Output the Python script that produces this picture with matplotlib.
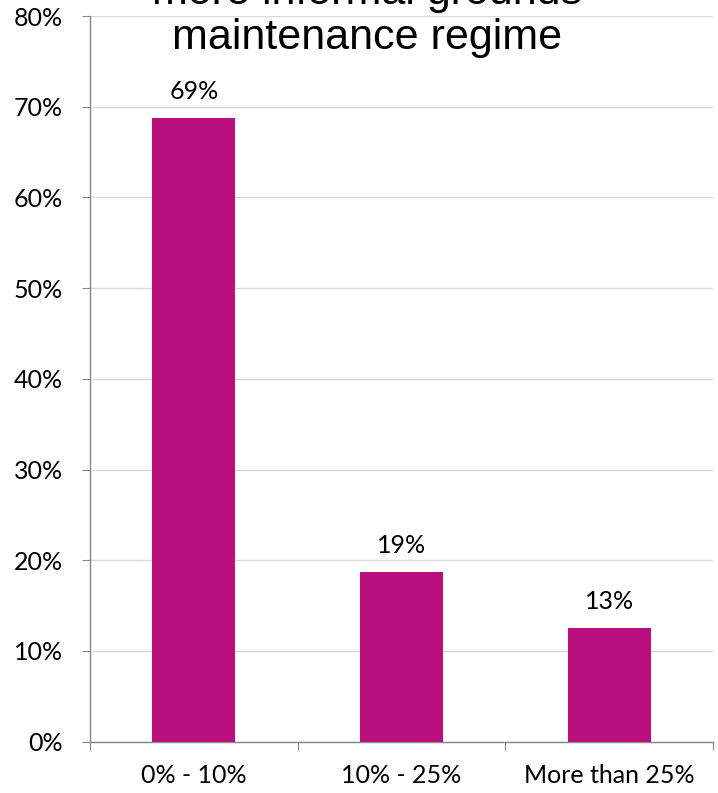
import matplotlib
matplotlib.use("Agg")
import matplotlib.pyplot as plt
from matplotlib import font_manager

categories = ["0% - 10%", "10% - 25%", "More than 25%"]
shares = [68.75, 18.75, 12.5]
value_labels = ["69%", "19%", "13%"]
title_lines = ["more informal grounds", "maintenance regime"]

names = {f.name for f in font_manager.fontManager.ttflist}
if "Liberation Sans Narrow" in names:
    title_font, title_size = "Liberation Sans Narrow", 37
else:
    title_font, title_size = "Liberation Sans", 31
label_font = "Lato"

W, H = 718, 793
fig = plt.figure(figsize=(W / 100, H / 100), dpi=100)
ax = fig.add_axes([90 / W, 1 - 741.6 / H, (713 - 90) / W, (741.6 - 16) / H])

pos = [i + 0.5 for i in range(len(categories))]
ax.bar(pos, shares, width=0.4, color="#BB0F80", zorder=3)

for x, v, lab in zip(pos, shares, value_labels):
    ax.annotate(lab, (x, v), xytext=(0, 13.5), textcoords="offset points",
                ha="center", va="baseline", fontsize=18, family=label_font)

ax.set_xlim(0, 3)
ax.set_ylim(0, 80)
ax.set_yticks(range(0, 81, 10))
ax.set_yticklabels([f"{t}%" for t in range(0, 81, 10)], family=label_font, fontsize=18)
ax.yaxis.grid(True, color="#D9D9D9", linewidth=1, zorder=0)

ax.set_xticks([0, 1, 2, 3])
ax.set_xticklabels([])
ax.set_xticks(pos, minor=True)
ax.set_xticklabels(categories, minor=True, family=label_font, fontsize=18)
ax.tick_params(axis="x", which="major", length=6, color="#868686", direction="out")
ax.tick_params(axis="x", which="minor", length=0, pad=16)
ax.tick_params(axis="y", length=6, color="#868686", direction="out", pad=13.5)

for s in ["top", "right"]:
    ax.spines[s].set_visible(False)
for s in ["left", "bottom"]:
    ax.spines[s].set_color("#868686")
    ax.spines[s].set_linewidth(1)

fig.text(367 / W, 1 - 4 / H, title_lines[0], ha="center", va="baseline",
         fontsize=title_size, family=title_font)
fig.text(367 / W, 1 - 49.5 / H, title_lines[1], ha="center", va="baseline",
         fontsize=title_size, family=title_font)

fig.savefig("out.png", dpi=100)
